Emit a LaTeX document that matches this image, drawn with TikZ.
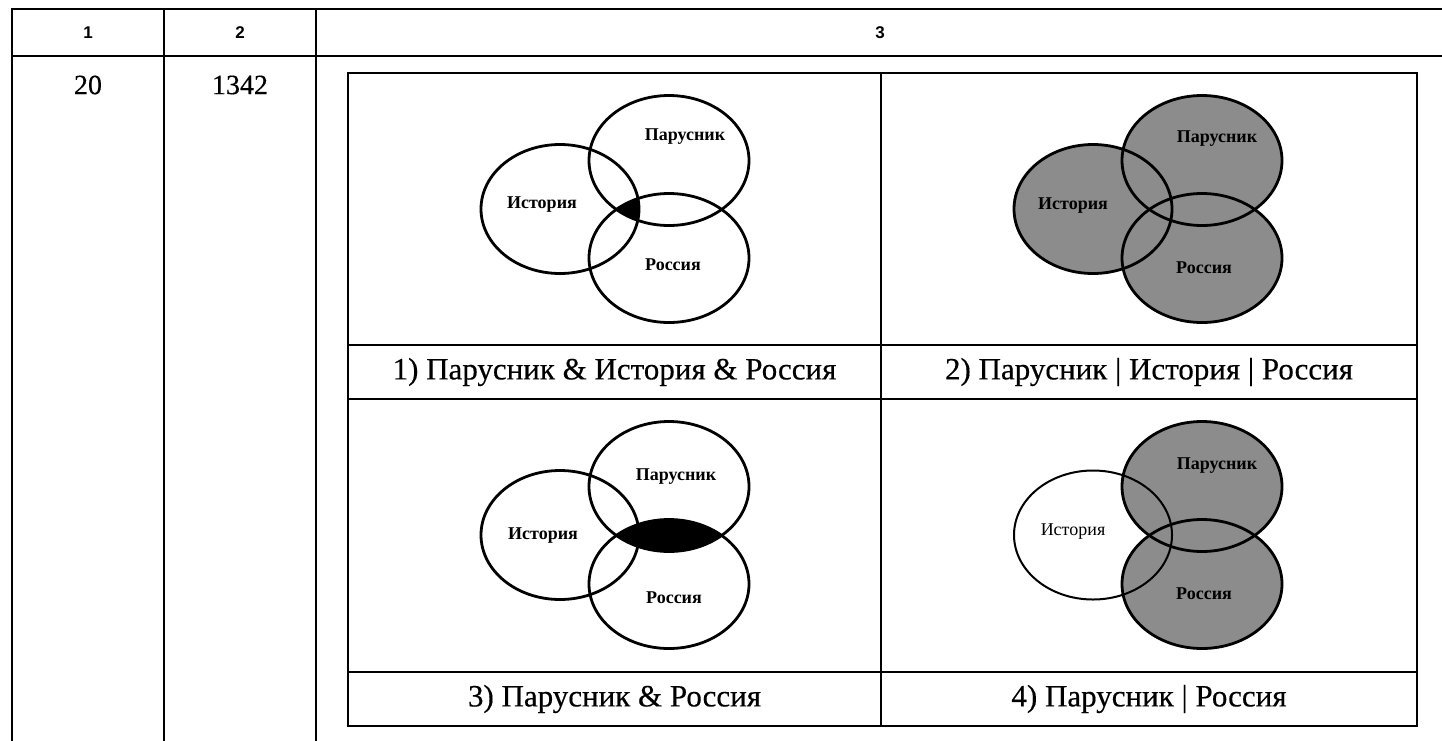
\documentclass[tikz,border=0pt]{standalone}
\usepackage{fontspec}
\setmainfont[FakeBold=0.4]{Liberation Serif}
\newfontfamily\hdrfont{Liberation Sans}
\newfontfamily\lblfont{Liberation Serif}
\begin{document}
\begin{tikzpicture}[x=1pt,y=-1pt,
  grid/.style={line width=2pt, line cap=rect},
  vline/.style={line width=2.8pt},
  hdr/.style={font=\hdrfont\bfseries\fontsize{17}{19}\selectfont},
  num/.style={font=\fontsize{28}{32}\selectfont},
  capt/.style={font=\fontsize{31}{36}\selectfont},
  lbl/.style={font=\lblfont\bfseries\fontsize{18}{20}\selectfont},
  lblr/.style={font=\lblfont\fontsize{18}{20}\selectfont},
  shade/.style={fill=black!45},
  ei/.style={x radius=79pt, y radius=64.5pt},
  ep/.style={x radius=80pt, y radius=65pt},
  er/.style={x radius=80pt, y radius=64.5pt}]
\useasboundingbox (0,0) rectangle (1442,740);
\fill[white] (0,0) rectangle (1442,740);
% outer table
\draw[grid] (12,740) -- (12,9) -- (1442,9);
\draw[grid] (12,56) -- (1442,56);
\draw[grid] (164,9) -- (164,740);
\draw[grid] (316,9) -- (316,740);
% inner table
\draw[grid] (348,72.5) rectangle (1417,726);
\draw[grid] (881,72.5) -- (881,726);
\draw[grid] (348,345) -- (1417,345);
\draw[grid] (348,399) -- (1417,399);
\draw[grid] (348,672) -- (1417,672);
% header texts
\node[hdr] (h1) at (88,33) {1};
\node[hdr] (h2) at (240,33) {2};
\node[hdr] (h3) at (880,33) {3};
\node[num] (n20) at (88,85) {20};
\node[num] (n1342) at (240,85) {1342};
% captions
\node[capt] (c1) at (614.5,372) {1) Парусник \& История \& Россия};
\node[capt] (c2) at (1149,372) {2) Парусник | История | Россия};
\node[capt] (c3) at (614.5,699) {3) Парусник \& Россия};
\node[capt] (c4) at (1149,699) {4) Парусник | Россия};
% panel 1
\begin{scope}[shift={(348,73)}]
  \begin{scope}
    \clip (212,136) ellipse [ei];
    \clip (321,87.5) ellipse [ep];
    \fill (321,185) ellipse [er];
  \end{scope}
  \draw[vline] (212,136) ellipse [ei];
  \draw[vline] (321,87.5) ellipse [ep];
  \draw[vline] (321,185) ellipse [er];
  \node[lbl] (p1) at (337,64) {Парусник};
  \node[lbl] (i1) at (194,132) {История};
  \node[lbl] (r1) at (325,192) {Россия};
\end{scope}
% panel 2
\begin{scope}[shift={(881,73)}]
  \fill[shade] (212,136) ellipse [ei];
  \fill[shade] (321,87.5) ellipse [ep];
  \fill[shade] (321,185) ellipse [er];
  \draw[vline] (212,136) ellipse [ei];
  \draw[vline] (321,87.5) ellipse [ep];
  \draw[vline] (321,185) ellipse [er];
  \node[lbl] (p2) at (336,66) {Парусник};
  \node[lbl] (i2) at (192,133) {История};
  \node[lbl] (r2) at (323,195) {Россия};
\end{scope}
% panel 3
\begin{scope}[shift={(348,399)}]
  \begin{scope}
    \clip (321,87.5) ellipse [ep];
    \fill (321,185) ellipse [er];
  \end{scope}
  \draw[vline] (212,136) ellipse [ei];
  \draw[vline] (321,87.5) ellipse [ep];
  \draw[vline] (321,185) ellipse [er];
  \node[lbl] (p3) at (328,78) {Парусник};
  \node[lbl] (i3) at (195,137) {История};
  \node[lbl] (r3) at (326,199) {Россия};
\end{scope}
% panel 4
\begin{scope}[shift={(881,399)}]
  \fill[shade] (321,87.5) ellipse [ep];
  \fill[shade] (321,185) ellipse [er];
  \draw[line width=2pt] (212,136) ellipse [ei];
  \draw[vline] (321,87.5) ellipse [ep];
  \draw[vline] (321,185) ellipse [er];
  \node[lbl] (p4) at (336,67) {Парусник};
  \node[lblr] (i4) at (192,133) {История};
  \node[lbl] (r4) at (323,195) {Россия};
\end{scope}
\end{tikzpicture}
\end{document}
